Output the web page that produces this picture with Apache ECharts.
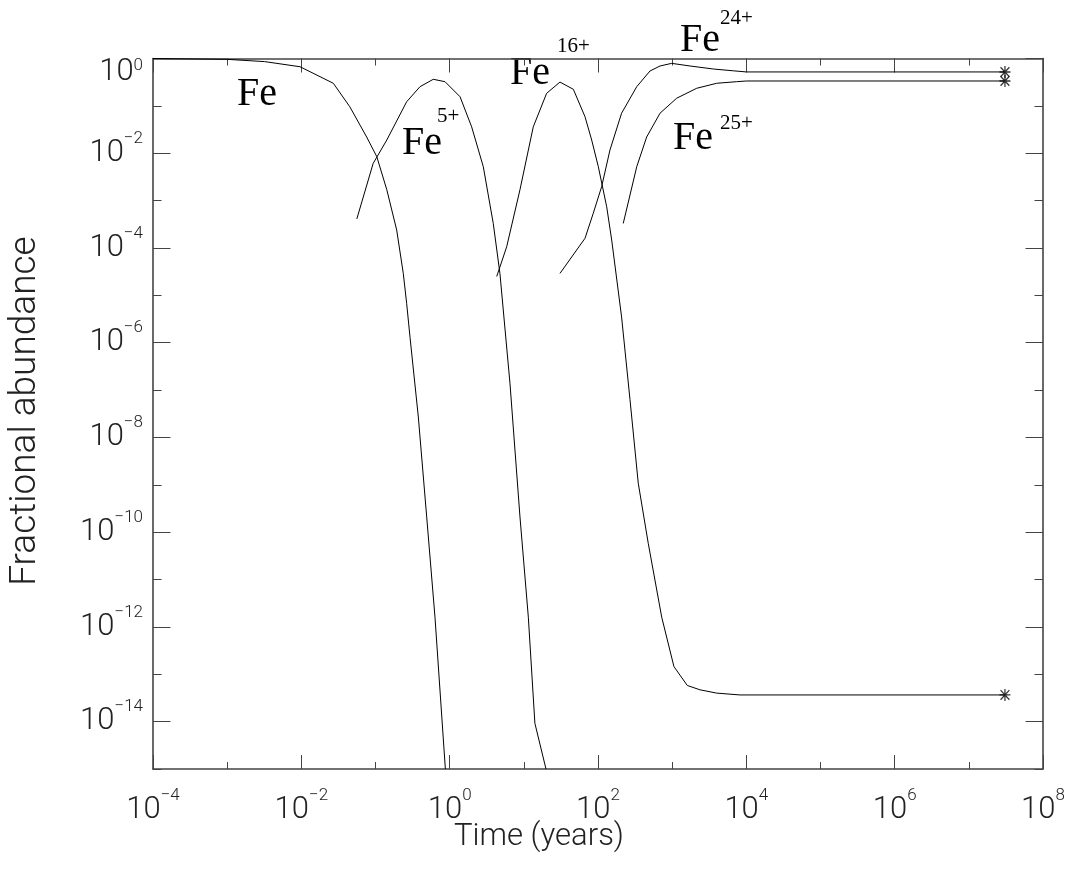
<!DOCTYPE html>
<html>
<head>
<meta charset="utf-8">
<script src="https://cdn.jsdelivr.net/npm/echarts@6/dist/echarts.min.js"></script>
<style>
html,body{margin:0;padding:0;background:#fff;}
#chart{width:1074px;height:875px;}
</style>
</head>
<body>
<div id="chart"></div>
<script>
// ---- data (time in years, fractional abundance) ----
const timeFe   = [1.0e-4, 9.9e-4, 3.2e-3, 9.6e-3, 2.7e-2, 4.5e-2, 7.6e-2, 0.104, 0.142, 0.193, 0.237, 0.263, 0.292, 0.378, 0.490, 0.634, 0.875];
const abFe     = [1.0, 0.96, 0.86, 0.67, 0.30, 9.6e-2, 2.2e-2, 8.5e-3, 1.7e-3, 2.4e-4, 2.9e-5, 6.8e-6, 1.3e-6, 2.7e-8, 2.1e-10, 1.6e-12, 1.0e-15];

const timeFe5  = [5.6e-2, 9.3e-2, 0.142, 0.263, 0.398, 0.601, 0.865, 1.38, 1.98, 2.84, 3.87, 4.76, 6.50, 8.87, 11.5, 14.1, 19.9];
const abFe5    = [4.1e-4, 6.1e-3, 1.9e-2, 0.122, 0.254, 0.364, 0.324, 0.156, 3.6e-2, 5.2e-3, 3.3e-4, 2.9e-5, 1.4e-7, 2.1e-10, 1.6e-12, 9.2e-15, 1.0e-15];

const timeFe16 = [4.31, 5.87, 8.87, 13.4, 20.3, 30.7, 46.5, 66.8, 82.2, 101, 131, 153, 208, 270, 349, 476, 723, 1057, 1600, 2370, 3980, 8200, 3.07e7];
const abFe16   = [2.5e-5, 1.06e-4, 1.7e-3, 3.6e-2, 0.184, 0.318, 0.224, 5.9e-2, 1.9e-2, 5.2e-3, 7.4e-4, 1.47e-4, 3.5e-6, 6.3e-8, 1.08e-9, 5.8e-11, 1.6e-12, 1.45e-13, 5.8e-14, 4.7e-14, 4.0e-14, 3.66e-14, 3.66e-14];

const timeFe24 = [30.7, 66.8, 86.3, 112, 145, 208, 333, 502, 686, 984, 1740, 3590, 6670, 1.0e4, 3.07e7];
const abFe24   = [2.9e-5, 1.6e-4, 5.4e-4, 1.97e-3, 1.17e-2, 7.0e-2, 0.254, 0.545, 0.695, 0.79, 0.695, 0.60, 0.55, 0.52, 0.52];

const timeFe25 = [219, 333, 453, 686, 1150, 2140, 3980, 7410, 1.0e4, 3.07e7];
const abFe25   = [3.3e-4, 5.2e-3, 2.2e-2, 7.0e-2, 0.145, 0.235, 0.30, 0.324, 0.335, 0.335];

const xRange = [1e-4, 1e8];
const yRange = [1e-15, 1];
const yMajorMin = 1e-14;

const xTitle = 'Time (years)';
const yTitle = 'Fractional abundance';
const ionLabels = [
  {base: 'Fe', sup: ''},
  {base: 'Fe', sup: '5+'},
  {base: 'Fe', sup: '16+'},
  {base: 'Fe', sup: '24+'},
  {base: 'Fe', sup: '25+'}
];

// ---- helpers ----
function pairs(t, a) { return t.map((v, i) => [v, a[i]]); }
function lastPoint(t, a) { return [t[t.length - 1], a[a.length - 1]]; }

const axisColor = '#444';
const txtColor = '#222';
const axFont = 'Roboto';

function expLabelY(v) {
  const e = Math.round(Math.log10(v));
  const s = (e < 0 ? '\u2212' + (-e) : '' + e);
  if (e === 0) return '{b0|10}{s0|' + s + '}';
  return '{b|10}{s|' + s + '}';
}
function expLabelX(v) {
  const e = Math.round(Math.log10(v));
  const s = (e < 0 ? '\u2212' + (-e) : '' + e);
  return '{b|10}{s|' + s + '}';
}
const bStyle = {fontSize: 31, lineHeight: 46, fontFamily: axFont, fontWeight: 300, color: txtColor};
const sStyle = {fontSize: 17, lineHeight: 17, verticalAlign: 'top', fontFamily: axFont, fontWeight: 300, color: txtColor};
const richY = {
  b: bStyle,
  s: sStyle,
  b0: Object.assign({}, bStyle, {lineHeight: 38, padding: [28, 0, 0, 0]}),
  s0: Object.assign({}, sStyle, {padding: [18, 0, 0, 0]})
};
const richX = {b: bStyle, s: sStyle};

function xAx(pos, interval, len, showLine, showLabel) {
  return {
    type: 'log', gridIndex: 0, min: xRange[0], max: xRange[1], interval: interval, position: pos,
    axisLine: {show: showLine, onZero: false, lineStyle: {color: axisColor, width: 1.6}},
    axisTick: {show: true, inside: true, length: len, lineStyle: {color: axisColor, width: 1}},
    axisLabel: {show: showLabel, margin: 18, formatter: expLabelX, rich: richX},
    splitLine: {show: false}, minorTick: {show: false}
  };
}
function yAx(grid, min, pos, interval, len, showLine, showLabel) {
  return {
    type: 'log', gridIndex: grid, min: min, max: yRange[1], interval: interval, position: pos,
    axisLine: {show: showLine, onZero: false, lineStyle: {color: axisColor, width: 1.6}},
    axisTick: {show: true, inside: true, length: len, lineStyle: {color: axisColor, width: 1}},
    axisLabel: {show: showLabel, margin: 10, formatter: expLabelY, rich: richY},
    splitLine: {show: false}, minorTick: {show: false}
  };
}

const lineStyle = {color: '#000', width: 1};
function lineSeries(name, t, a) {
  return {
    name: name, type: 'line', xAxisIndex: 0, yAxisIndex: 0,
    data: pairs(t, a), showSymbol: false, symbol: 'none', smooth: false,
    lineStyle: lineStyle, silent: true, clip: true
  };
}

const asterisk = 'path://M5,0L5,10M0,5L10,5M1,1L9,9M1,9L9,1';

const serif = '"Liberation Serif", "Times New Roman", serif';
function ionText(label, xBase, yBaseMid, xSup, ySupMid) {
  const els = [{
    type: 'text', x: xBase, y: yBaseMid, silent: true,
    style: {text: label.base, font: '40px ' + serif, fill: '#000', align: 'left', verticalAlign: 'middle'}
  }];
  if (label.sup) {
    els.push({
      type: 'text', x: xSup, y: ySupMid, silent: true,
      style: {text: label.sup, font: '21px ' + serif, fill: '#000', align: 'left', verticalAlign: 'middle'}
    });
  }
  return els;
}

const chart = echarts.init(document.getElementById('chart'), null, {renderer: 'canvas'});
const option = {
  animation: false,
  backgroundColor: '#fff',
  grid: [
    {left: 153, right: 31, top: 58.5, bottom: 106},
    {left: 153, right: 31, top: 58.5, bottom: 153.4}
  ],
  xAxis: [
    xAx('bottom', 2, 14, true, true),
    xAx('bottom', 1, 7, false, false),
    xAx('top', 2, 14, true, false),
    xAx('top', 1, 7, false, false),
    {type: 'log', gridIndex: 1, min: xRange[0], max: xRange[1], show: false}
  ],
  yAxis: [
    yAx(0, yRange[0], 'left', 1, 8.5, true, false),
    yAx(0, yRange[0], 'right', 1, 8.5, true, false),
    yAx(1, yMajorMin, 'left', 2, 17.5, false, true),
    yAx(1, yMajorMin, 'right', 2, 17.5, false, false)
  ],
  series: [
    lineSeries('Fe', timeFe, abFe),
    lineSeries('Fe5+', timeFe5, abFe5),
    lineSeries('Fe16+', timeFe16, abFe16),
    lineSeries('Fe24+', timeFe24, abFe24),
    lineSeries('Fe25+', timeFe25, abFe25),
    {
      type: 'scatter', xAxisIndex: 0, yAxisIndex: 0, silent: true,
      data: [lastPoint(timeFe16, abFe16), lastPoint(timeFe24, abFe24), lastPoint(timeFe25, abFe25)],
      symbol: asterisk, symbolSize: [11, 12],
      itemStyle: {color: 'rgba(0,0,0,0)', borderColor: '#000', borderWidth: 1.3}
    }
  ],
  graphic: [].concat(
    ionText(ionLabels[0], 237, 94.5),
    ionText(ionLabels[1], 402, 143, 437, 116),
    ionText(ionLabels[2], 510, 73, 557, 46),
    ionText(ionLabels[3], 680, 40, 720, 18),
    ionText(ionLabels[4], 673, 138, 720, 123),
    [
      {type: 'text', x: 539, y: 837, silent: true,
       style: {text: xTitle, font: '300 31px ' + axFont, fill: txtColor, align: 'center', verticalAlign: 'middle'}},
      {type: 'text', x: 26, y: 411, rotation: Math.PI / 2, silent: true,
       style: {text: yTitle, font: '300 37px ' + axFont, fill: txtColor, align: 'center', verticalAlign: 'middle'}}
    ]
  )
};
chart.setOption(option);
</script>
</body>
</html>
